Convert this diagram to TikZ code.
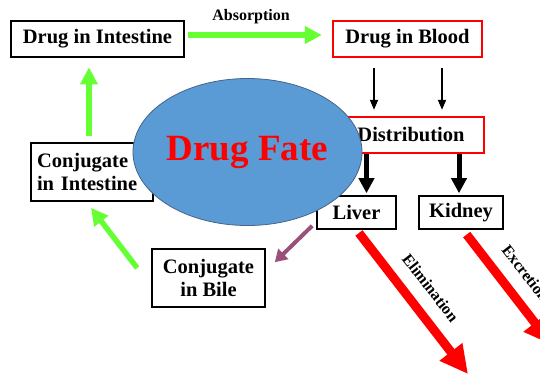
\documentclass[tikz,border=0pt]{standalone}
\usepackage{fontspec}
\setmainfont{Liberation Serif}
\usetikzlibrary{shapes.geometric, arrows.meta}

\begin{document}
\begin{tikzpicture}[x=1pt, y=-1pt, line join=miter]

    % Define custom colors to match the image
    \definecolor{absorbgreen}{RGB}{102, 255, 51}
    \definecolor{fateblue}{RGB}{91, 155, 213}
    \definecolor{fateedge}{RGB}{70, 100, 135}
    \definecolor{bilepurple}{RGB}{155, 80, 122}

    \tikzset{
        stagebox/.style={draw=black, line width=1.6pt, fill=white, inner sep=0pt,
            font=\fontsize{20.5}{23}\selectfont\bfseries},
        bloodbox/.style={stagebox, draw=red, line width=2.4pt},
        greenflow/.style={absorbgreen, line width=5.5pt, -{Triangle[length=17pt, width=17pt]}},
        bloodflow/.style={black, line width=1.8pt, -{Triangle[length=10pt, width=8pt]}},
        organflow/.style={black, line width=5pt, -{Triangle[length=15pt, width=15pt]}},
        bileflow/.style={bilepurple, line width=4pt, -{Triangle[length=12pt, width=14pt]}},
        outflow/.style={red, line width=9pt, -{Triangle[length=28pt, width=27pt]}},
        flowlabel/.style={black, inner sep=1pt, font=\fontsize{16}{18}\selectfont\bfseries}
    }

    \useasboundingbox (0,0) rectangle (540,376);

    % =======================================================
    % 1. Boxes lying under the ellipse
    % =======================================================
    \node[bloodbox, minimum width=146pt, minimum height=36pt] (distribution) at (411,135) {Distribution};
    \node[stagebox, minimum height=58pt, text width=110pt, inner xsep=6pt, align=left] (conjint) at (92,172) {Conjugate\\in Intestine};
    \node[stagebox, minimum width=79pt, minimum height=33pt] (liver) at (356.5,212.5) {Liver};

    % =======================================================
    % 2. Drug Fate ellipse
    % =======================================================
    \node[ellipse, draw=fateedge, line width=0.8pt, fill=fateblue, minimum width=229pt, minimum height=147pt,
        inner sep=0pt, text=red, font=\fontsize{37}{40}\selectfont\bfseries] (fate) at (247.5,152) {\raisebox{4.5pt}{Drug Fate}};

    % =======================================================
    % 3. Other boxes
    % =======================================================
    \node[stagebox, line width=2.8pt, minimum width=173pt, minimum height=36pt] (intestine) at (97.5,39) {Drug in Intestine};
    \node[bloodbox, minimum width=149pt, minimum height=36pt] (blood) at (407.5,39) {Drug in Blood};
    \node[stagebox, minimum width=84pt, minimum height=33pt] (kidney) at (461,212.5) {Kidney};
    \node[stagebox, minimum width=113pt, minimum height=58pt, align=center] (bile) at (208.5,278) {Conjugate\\in Bile};

    % free ends of the outflow arrows
    \coordinate (eliminationend) at (468,374);
    \coordinate (excretionend) at (552,345);

    % =======================================================
    % 4. Arrows
    % =======================================================
    % Absorption
    \draw[greenflow] ([shift={(3pt,4pt)}]intestine.east) -- ([shift={(-10pt,4pt)}]blood.west)
        node[flowlabel, pos=0.47, above=7pt] {Absorption};

    % Blood to distribution
    \draw[bloodflow, shorten <=10pt, shorten >=6pt] ([xshift=-33.5pt]blood.south) -- ([xshift=-33.5pt]blood.south |- distribution.north);
    \draw[bloodflow, shorten <=10pt, shorten >=6pt] ([xshift=34.5pt]blood.south) -- ([xshift=34.5pt]blood.south |- distribution.north);

    % Distribution to organs
    \draw[organflow, shorten >=2pt] ([xshift=10pt]liver.north |- distribution.south) -- ([xshift=10pt]liver.north);
    \draw[organflow, shorten >=2pt] ([xshift=-2pt]kidney.north |- distribution.south) -- ([xshift=-2pt]kidney.north);

    % Enterohepatic cycle
    \draw[bileflow] ([shift={(-4pt,4pt)}]liver.south west) -- ([shift={(9pt,-14pt)}]bile.north east);
    \draw[greenflow] ([shift={(-14pt,10pt)}]bile.west) -- ([shift={(-1pt,-6pt)}]conjint.south);
    \draw[greenflow, shorten <=6pt, shorten >=9pt] ([xshift=-3pt]conjint.north) -- ([xshift=-3pt]conjint.north |- intestine.south);

    % Leaving the body
    \draw[outflow, shorten <=4pt] (liver.south) -- (eliminationend)
        node[flowlabel, midway, sloped, above=12pt] {Elimination};
    \draw[outflow, shorten <=6pt] ([xshift=2pt]kidney.south) -- (excretionend)
        node[flowlabel, midway, sloped, above=12pt] {Excretion};

\end{tikzpicture}
\end{document}
